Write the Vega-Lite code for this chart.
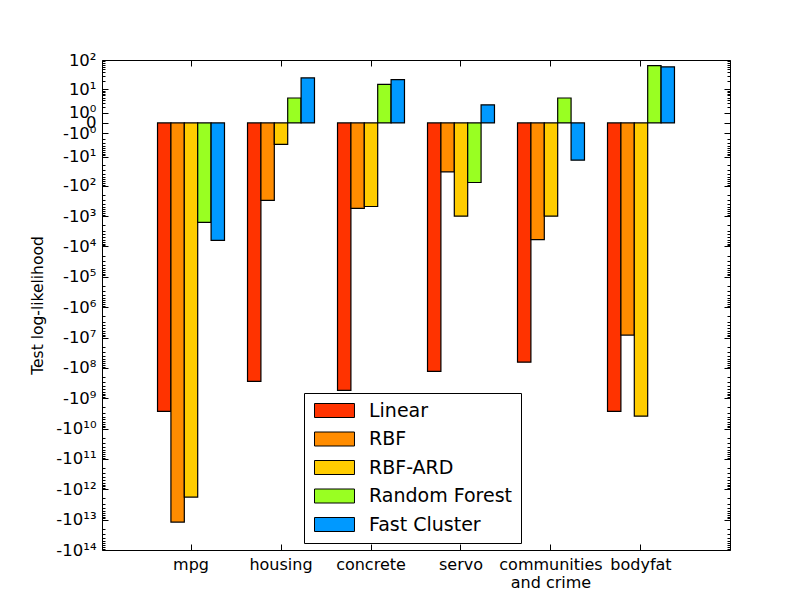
{
  "$schema": "https://vega.github.io/schema/vega-lite/v6.json",
  "width": 628,
  "height": 490,
  "autosize": "none",
  "padding": {"left": 102, "top": 60, "right": 82, "bottom": 62},
  "config": {
    "font": "DejaVu Sans",
    "view": {"stroke": "black", "strokeWidth": 1},
    "axis": {"grid": false, "domain": false, "tickColor": "black", "labelColor": "black", "titleColor": "black", "labelFont": "DejaVu Sans", "titleFont": "DejaVu Sans"}
  },
  "data": {
    "values": [
      {"dataset": "mpg", "method": "Linear", "value": -2.7e9},
      {"dataset": "mpg", "method": "RBF", "value": -1.2e13},
      {"dataset": "mpg", "method": "RBF-ARD", "value": -1.8e12},
      {"dataset": "mpg", "method": "Random Forest", "value": -1600},
      {"dataset": "mpg", "method": "Fast Cluster", "value": -6300},
      {"dataset": "housing", "method": "Linear", "value": -2.8e8},
      {"dataset": "housing", "method": "RBF", "value": -300},
      {"dataset": "housing", "method": "RBF-ARD", "value": -3.5},
      {"dataset": "housing", "method": "Random Forest", "value": 4.8},
      {"dataset": "housing", "method": "Fast Cluster", "value": 25},
      {"dataset": "concrete", "method": "Linear", "value": -5.5e8},
      {"dataset": "concrete", "method": "RBF", "value": -550},
      {"dataset": "concrete", "method": "RBF-ARD", "value": -480},
      {"dataset": "concrete", "method": "Random Forest", "value": 15},
      {"dataset": "concrete", "method": "Fast Cluster", "value": 22},
      {"dataset": "servo", "method": "Linear", "value": -1.3e8},
      {"dataset": "servo", "method": "RBF", "value": -34},
      {"dataset": "servo", "method": "RBF-ARD", "value": -1000},
      {"dataset": "servo", "method": "Random Forest", "value": -77},
      {"dataset": "servo", "method": "Fast Cluster", "value": 2.5},
      {"dataset": "communities and crime", "method": "Linear", "value": -6.5e7},
      {"dataset": "communities and crime", "method": "RBF", "value": -5900},
      {"dataset": "communities and crime", "method": "RBF-ARD", "value": -1000},
      {"dataset": "communities and crime", "method": "Random Forest", "value": 4.8},
      {"dataset": "communities and crime", "method": "Fast Cluster", "value": -13.5},
      {"dataset": "bodyfat", "method": "Linear", "value": -2.7e9},
      {"dataset": "bodyfat", "method": "RBF", "value": -8.3e6},
      {"dataset": "bodyfat", "method": "RBF-ARD", "value": -3.9e9},
      {"dataset": "bodyfat", "method": "Random Forest", "value": 65},
      {"dataset": "bodyfat", "method": "Fast Cluster", "value": 59}
    ]
  },
  "encoding": {
    "x": {
      "field": "dataset", "type": "nominal",
      "sort": ["mpg", "housing", "concrete", "servo", "communities and crime", "bodyfat"],
      "scale": {"paddingInner": 0.256, "paddingOuter": 0.617}
    },
    "xOffset": {
      "field": "method", "type": "nominal",
      "sort": ["Linear", "RBF", "RBF-ARD", "Random Forest", "Fast Cluster"],
      "scale": {"paddingInner": 0, "paddingOuter": 0}
    },
    "y": {
      "field": "value", "type": "quantitative", "stack": null,
      "scale": {"type": "symlog", "constant": 0.85, "domain": [-1e14, 100], "nice": false, "zero": false}
    }
  },
  "layer": [
    {
      "mark": {"type": "bar", "stroke": "black", "strokeWidth": 1.2},
      "encoding": {
        "x": {
          "field": "dataset", "type": "nominal",
          "sort": ["mpg", "housing", "concrete", "servo", "communities and crime", "bodyfat"],
          "axis": {
            "orient": "bottom", "title": null, "labelAngle": 0, "labelFontSize": 16,
            "tickSize": -6, "labelPadding": 12, "labelLineHeight": 18,
            "labelExpr": "datum.label == 'communities and crime' ? ['communities', 'and crime'] : datum.label"
          }
        },
        "y": {
          "field": "value", "type": "quantitative",
          "axis": {
            "orient": "left",
            "title": "Test log-likelihood", "titleFontSize": 15.5, "titleFontWeight": "normal", "titlePadding": 10,
            "labelFontSize": 16.5, "labelOverlap": false, "labelBound": false, "labelFlush": false,
            "labelPadding": 12,
            "values": [100, 90, 80, 70, 60, 50, 40, 30, 20, 10, 9, 8, 7, 6, 5, 4, 3, 2, 1, 0,
              -1, -2, -3, -4, -5, -6, -7, -8, -9,
              -10, -20, -30, -40, -50, -60, -70, -80, -90,
              -100, -200, -300, -400, -500, -600, -700, -800, -900,
              -1e3, -2e3, -3e3, -4e3, -5e3, -6e3, -7e3, -8e3, -9e3,
              -1e4, -2e4, -3e4, -4e4, -5e4, -6e4, -7e4, -8e4, -9e4,
              -1e5, -2e5, -3e5, -4e5, -5e5, -6e5, -7e5, -8e5, -9e5,
              -1e6, -2e6, -3e6, -4e6, -5e6, -6e6, -7e6, -8e6, -9e6,
              -1e7, -2e7, -3e7, -4e7, -5e7, -6e7, -7e7, -8e7, -9e7,
              -1e8, -2e8, -3e8, -4e8, -5e8, -6e8, -7e8, -8e8, -9e8,
              -1e9, -2e9, -3e9, -4e9, -5e9, -6e9, -7e9, -8e9, -9e9,
              -1e10, -2e10, -3e10, -4e10, -5e10, -6e10, -7e10, -8e10, -9e10,
              -1e11, -2e11, -3e11, -4e11, -5e11, -6e11, -7e11, -8e11, -9e11,
              -1e12, -2e12, -3e12, -4e12, -5e12, -6e12, -7e12, -8e12, -9e12,
              -1e13, -2e13, -3e13, -4e13, -5e13, -6e13, -7e13, -8e13, -9e13,
              -1e14],
            "tickSize": {
              "condition": {"test": "datum.value == 0 || abs(log(abs(datum.value))/LN10 - round(log(abs(datum.value))/LN10)) < 1e-6", "value": -6},
              "value": -3
            },
            "labelExpr": "datum.value == 0 ? '0' : (abs(log(abs(datum.value))/LN10 - round(log(abs(datum.value))/LN10)) > 1e-6 ? '' : (datum.value < 0 ? '-' : '') + '10' + ['⁰','¹','²','³','⁴','⁵','⁶','⁷','⁸','⁹','¹⁰','¹¹','¹²','¹³','¹⁴'][round(abs(log(abs(datum.value))/LN10))])"
          }
        },
        "color": {
          "field": "method", "type": "nominal",
          "sort": ["Linear", "RBF", "RBF-ARD", "Random Forest", "Fast Cluster"],
          "scale": {
            "domain": ["Linear", "RBF", "RBF-ARD", "Random Forest", "Fast Cluster"],
            "range": ["#FF3300", "#FF8C00", "#FFCC00", "#99FF22", "#0099FF"]
          },
          "legend": {
            "title": null, "orient": "none", "legendX": 202, "legendY": 333,
            "strokeColor": "black", "fillColor": "white", "padding": 8, "cornerRadius": 0,
            "symbolType": "M-1,-1L4.71,-1L4.71,1L-1,1Z", "symbolSize": 196,
            "symbolStrokeColor": "black", "symbolStrokeWidth": 1, "symbolOpacity": 1,
            "labelFontSize": 19, "labelFont": "DejaVu Sans", "labelColor": "black", "labelOffset": 38,
            "rowPadding": 8.5
          }
        }
      }
    },
    {
      "mark": {"type": "bar", "opacity": 0},
      "encoding": {
        "x": {
          "field": "dataset", "type": "nominal",
          "sort": ["mpg", "housing", "concrete", "servo", "communities and crime", "bodyfat"],
          "axis": {"orient": "top", "title": null, "labels": false, "tickSize": -6}
        },
        "y": {
          "field": "value", "type": "quantitative",
          "axis": {
            "orient": "right", "title": null, "labels": false,
            "values": [100, 90, 80, 70, 60, 50, 40, 30, 20, 10, 9, 8, 7, 6, 5, 4, 3, 2, 1, 0,
              -1, -2, -3, -4, -5, -6, -7, -8, -9,
              -10, -20, -30, -40, -50, -60, -70, -80, -90,
              -100, -200, -300, -400, -500, -600, -700, -800, -900,
              -1e3, -2e3, -3e3, -4e3, -5e3, -6e3, -7e3, -8e3, -9e3,
              -1e4, -2e4, -3e4, -4e4, -5e4, -6e4, -7e4, -8e4, -9e4,
              -1e5, -2e5, -3e5, -4e5, -5e5, -6e5, -7e5, -8e5, -9e5,
              -1e6, -2e6, -3e6, -4e6, -5e6, -6e6, -7e6, -8e6, -9e6,
              -1e7, -2e7, -3e7, -4e7, -5e7, -6e7, -7e7, -8e7, -9e7,
              -1e8, -2e8, -3e8, -4e8, -5e8, -6e8, -7e8, -8e8, -9e8,
              -1e9, -2e9, -3e9, -4e9, -5e9, -6e9, -7e9, -8e9, -9e9,
              -1e10, -2e10, -3e10, -4e10, -5e10, -6e10, -7e10, -8e10, -9e10,
              -1e11, -2e11, -3e11, -4e11, -5e11, -6e11, -7e11, -8e11, -9e11,
              -1e12, -2e12, -3e12, -4e12, -5e12, -6e12, -7e12, -8e12, -9e12,
              -1e13, -2e13, -3e13, -4e13, -5e13, -6e13, -7e13, -8e13, -9e13,
              -1e14],
            "tickSize": {
              "condition": {"test": "datum.value == 0 || abs(log(abs(datum.value))/LN10 - round(log(abs(datum.value))/LN10)) < 1e-6", "value": -6},
              "value": -3
            }
          }
        }
      }
    }
  ],
  "resolve": {"axis": {"x": "independent", "y": "independent"}}
}
